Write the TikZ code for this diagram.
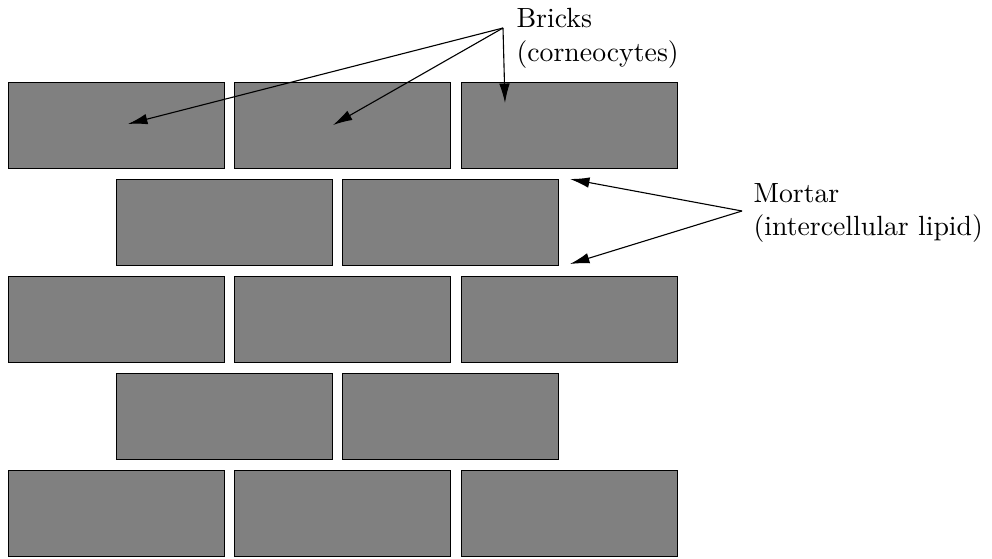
\documentclass[tikz,border=0pt]{standalone}
\usetikzlibrary{arrows.meta}

\tikzset{
	brick/.style={draw=black, fill=gray, line width=0.35pt, anchor=north west,
		minimum width=77.76pt, minimum height=30.96pt, inner sep=0pt, outer sep=0pt},
	label/.style={anchor=north west, align=left, inner sep=0pt},
	pointer/.style={-{Latex[length=7pt,width=3.8pt]}, line width=0.4pt}
}

\begin{document}
\begin{tikzpicture}[x=0.36pt, y=-0.36pt]

		\useasboundingbox (0,0) rectangle (992,559);

		% full rows
		\foreach \r/\y in {1/82, 3/276, 5/470} {
			\foreach \c/\x in {1/8, 2/234.5, 3/461} {
				\node[brick] (b-\r-\c) at (\x,\y) {};
			}
		}
		% offset rows
		\foreach \r/\y in {2/179, 4/373} {
			\foreach \c/\x in {1/116, 2/342} {
				\node[brick] (b-\r-\c) at (\x,\y) {};
			}
		}

		\node[label] (bricks) at (516,8) {Bricks\\(corneocytes)};
		\node[label] (mortar) at (753,183) {Mortar\\(intercellular lipid)};

		\coordinate (bricksfoot) at (503,28);
		\coordinate (mortarfoot) at (742,211);
		\coordinate (tip-1) at (128,124);
		\coordinate (tip-2) at (333,125);
		\coordinate (tip-3) at (505,103);
		\coordinate (gap-top) at (570,179);
		\coordinate (gap-bot) at (570,264);

		\draw[pointer] (bricksfoot) -- (tip-1);
		\draw[pointer] (bricksfoot) -- (tip-2);
		\draw[pointer] (bricksfoot) -- (tip-3);
		\draw[pointer] (mortarfoot) -- (gap-top);
		\draw[pointer] (mortarfoot) -- (gap-bot);

	\end{tikzpicture}
\end{document}
